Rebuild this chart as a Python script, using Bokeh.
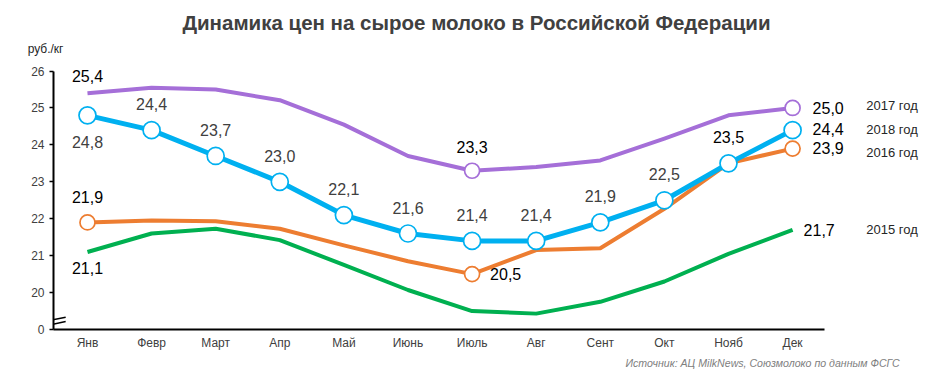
from bokeh.plotting import figure
from bokeh.models import Title, Arrow, FixedTicker, Range1d
from bokeh.core.properties import value
from bokeh.embed import file_html
from bokeh.resources import INLINE

months = ["Янв", "Февр", "Март", "Апр", "Май", "Июнь", "Июль", "Авг", "Сент", "Окт", "Нояб", "Дек"]
y2015 = [21.1, 21.6, 21.73, 21.42, 20.75, 20.07, 19.5, 19.43, 19.75, 20.3, 21.05, 21.7]
y2016 = [21.9, 21.95, 21.93, 21.73, 21.28, 20.85, 20.5, 21.15, 21.2, 22.27, 23.5, 23.9]
y2017 = [25.4, 25.55, 25.5, 25.21, 24.55, 23.7, 23.3, 23.4, 23.58, 24.17, 24.8, 25.0]
y2018 = [24.8, 24.4, 23.7, 23.0, 22.1, 21.6, 21.4, 21.4, 21.9, 22.5, 23.5, 24.4]
series_names = ["2015 год", "2016 год", "2017 год", "2018 год"]
y_ticks = [19, 20, 21, 22, 23, 24, 25, 26]
y_tick_labels = {19: "0"}
title_text = "Динамика цен на сырое молоко в Российской Федерации"
unit_text = "руб./кг"
source_text = "Источник: АЦ MilkNews, Союзмолоко  по данным  ФСГС"

FONT = "Liberation Sans"
x = list(range(len(months)))

def fmt(v):
    return f"{v:.1f}".replace(".", ",")

W, H = 928, 370
p = figure(width=W, height=H, output_backend="svg", toolbar_location=None,
           x_range=Range1d(-0.53, 13.12), y_range=Range1d(19, 26.34),
           min_border_left=53, min_border_right=0, min_border_top=58, min_border_bottom=41)
p.outline_line_color = None
p.grid.visible = False
p.background_fill_color = "white"

# titles: unit label (closest to frame), then main title above it; right-aligned with offsets
p.add_layout(Title(text=unit_text, align="right", offset=W - 63, standoff=5,
                   text_font=FONT, text_font_size="12px", text_font_style="normal",
                   text_color="#262626"), "above")
p.add_layout(Title(text=title_text, align="right", offset=W - 770, standoff=8,
                   text_font=FONT, text_font_size="20.5px", text_font_style="bold",
                   text_color="#404040"), "above")
p.add_layout(Title(text=source_text, align="right", offset=W - 905, standoff=4,
                   text_font=FONT, text_font_size="10.6px", text_font_style="italic",
                   text_color="#808080"), "below")

# axes
p.xaxis.ticker = FixedTicker(ticks=x)
p.xaxis.major_label_overrides = {i: m for i, m in enumerate(months)}
p.xaxis.major_tick_out = 0
p.xaxis.major_tick_in = 0
p.xaxis.minor_tick_out = 0
p.xaxis.minor_tick_in = 0
p.xaxis.axis_line_width = 2
p.xaxis.axis_line_color = "black"
p.xaxis.bounds = (-0.53, 11.5)
p.xaxis.major_label_text_font = FONT
p.xaxis.major_label_text_font_size = "12px"
p.xaxis.major_label_text_color = "#404040"
p.xaxis.major_label_standoff = 6

p.yaxis.ticker = FixedTicker(ticks=y_ticks)
p.yaxis.major_label_overrides = y_tick_labels
p.yaxis.major_tick_out = 4
p.yaxis.major_tick_in = 0
p.yaxis.minor_tick_out = 0
p.yaxis.minor_tick_in = 0
p.yaxis.axis_line_width = 2
p.yaxis.axis_line_color = "black"
p.yaxis.major_tick_line_width = 1.5
p.yaxis.bounds = (19, 26)
p.yaxis.major_label_text_font = FONT
p.yaxis.major_label_text_font_size = "12px"
p.yaxis.major_label_text_color = "#404040"
p.yaxis.major_label_standoff = 5

colors = {"2015 год": "#00B050", "2016 год": "#ED7D31", "2017 год": "#A56FD8", "2018 год": "#00B0F0"}
data = {"2015 год": y2015, "2016 год": y2016, "2017 год": y2017, "2018 год": y2018}
widths = {"2015 год": 4, "2016 год": 4, "2017 год": 4, "2018 год": 5}
marker_idx = {"2015 год": [], "2016 год": [0, 6, 11], "2017 год": [6, 11], "2018 год": list(range(12))}
marker_size = {"2015 год": 0, "2016 год": 15, "2017 год": 15, "2018 год": 17}

for name in series_names:
    ys = data[name]
    p.line(x, ys, line_color=colors[name], line_width=widths[name], line_join="round")
    idx = marker_idx[name]
    if idx:
        p.scatter([x[i] for i in idx], [ys[i] for i in idx], size=marker_size[name],
                  fill_color="white", line_color=colors[name], line_width=1.7)

# data labels: (series, index, x_offset, y_offset, align, color)
label_spec = [
    ("2018 год", 0, 0, 27, "center", "#404040"),
    ("2018 год", 1, 0, -26, "center", "#404040"),
    ("2018 год", 2, 0, -26, "center", "#404040"),
    ("2018 год", 3, 0, -26, "center", "#404040"),
    ("2018 год", 4, 0, -26, "center", "#404040"),
    ("2018 год", 5, 0, -26, "center", "#404040"),
    ("2018 год", 6, 0, -26, "center", "#404040"),
    ("2018 год", 7, 0, -26, "center", "#404040"),
    ("2018 год", 8, 0, -26, "center", "#404040"),
    ("2018 год", 9, 0, -26, "center", "#404040"),
    ("2018 год", 10, 0, -26, "center", "#000000"),
    ("2018 год", 11, 20, -1, "left", "#000000"),
    ("2017 год", 0, 0, -17, "center", "#000000"),
    ("2017 год", 6, 0, -24, "center", "#000000"),
    ("2017 год", 11, 20, 0, "left", "#000000"),
    ("2016 год", 0, 0, -25, "center", "#000000"),
    ("2016 год", 6, 18, 0, "left", "#000000"),
    ("2016 год", 11, 20, -1, "left", "#000000"),
    ("2015 год", 0, 0, 16, "center", "#000000"),
    ("2015 год", 11, 11, 0, "left", "#000000"),
]
for name, i, dx, dy, align, col in label_spec:
    p.text([x[i]], [data[name][i]], text=[fmt(data[name][i])], x_offset=dx, y_offset=dy,
           text_align=align, text_baseline="middle", text_font=value(FONT),
           text_font_size="16px", text_color=col)

# series name labels on the right
legend_dy = {"2015 год": 0, "2016 год": 4, "2017 год": -2, "2018 год": -1}
for name in series_names:
    p.text([12.15], [data[name][-1]], text=[name], y_offset=legend_dy[name],
           text_align="left", text_baseline="middle", text_font=value(FONT),
           text_font_size="13px", text_color="#262626")

# axis break marks
for ys0, ys1 in [(19.225, 19.333), (19.108, 19.216)]:
    p.add_layout(Arrow(end=None, x_start=-0.64, y_start=ys0, x_end=-0.34, y_end=ys1,
                       line_color="black", line_width=1.5))

open("out.html", "w").write(file_html(p, INLINE))
